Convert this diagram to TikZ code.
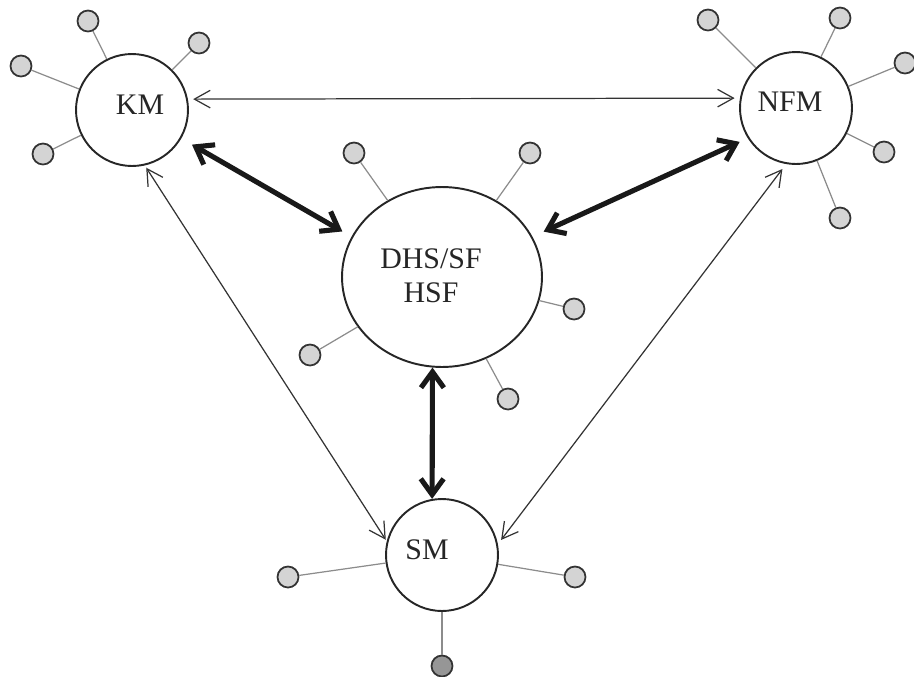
\documentclass[tikz,border=0pt]{standalone}
\usepackage{fontspec}
\setmainfont{Liberation Serif}
\usetikzlibrary{arrows.meta, positioning, shapes.geometric}

\begin{document}
\begin{tikzpicture}[x=0.02cm, y=-0.02cm,
	hub/.style={draw=black!85, line width=1.1pt, circle, minimum size=2.24cm, inner sep=0pt},
	sat/.style={draw=black!80, line width=1pt, fill=satfill, circle, minimum size=0.42cm, inner sep=0pt},
	spoke/.style={draw=black!45, line width=0.7pt},
	lbl/.style={font=\fontsize{17}{19.5}\selectfont, inner sep=0pt, text=black!85},
	thinlink/.style={draw=black!80, line width=0.7pt, {Straight Barb[length=9pt,width=10pt]}-{Straight Barb[length=9pt,width=10pt]}},
	thicklink/.style={draw=black!90, line width=2.9pt, {Straight Barb[length=9pt,width=13pt]}-{Straight Barb[length=9pt,width=13pt]}}]
					% Define colors for the small nodes
					\definecolor{satfill}{RGB}{212,212,212}
					\definecolor{satdark}{RGB}{150,150,150}
					
					\useasboundingbox (0,0) rectangle (914,677);
					
					% Main nodes
					\node[hub] (KM)  at (132,110) {};
					\node[hub] (NFM) at (796,108) {};
					\node[hub, ellipse, minimum width=4cm, minimum height=3.6cm] (DHS) at (442,277) {};
					\node[hub] (SM)  at (442,555) {};
					
					% Labels
					\node[lbl] (KMtext)  at (140,105) {KM};
					\node[lbl] (NFMtext) at (790,102) {NFM};
					\node[lbl, align=center] (DHStext) at (431,276) {DHS/SF\\HSF};
					\node[lbl] (SMtext)  at (427,550) {SM};
					
					% Small nodes around each main node
					\foreach \name/\x/\y/\hubname in {km1/88/21/KM, km2/199/43/KM, km3/21/66/KM, km4/43/154/KM,
						nfm1/708/20/NFM, nfm2/840/18/NFM, nfm3/905/63/NFM, nfm4/884/152/NFM, nfm5/840/218/NFM,
						dhs1/354/153/DHS, dhs2/530/153/DHS, dhs3/574/309/DHS, dhs4/310/355/DHS, dhs5/508/399/DHS,
						sm1/288/577/SM, sm2/575/577/SM}
					{
						\node[sat] (\name) at (\x,\y) {};
						\draw[spoke] (\name) -- (\hubname);
					}
					\node[sat, fill=satdark] (sm3) at (442,666) {};
					\draw[spoke] (sm3) -- (SM);
					
					% Links between main nodes
					\draw[thinlink, shorten <=3pt, shorten >=3pt] (KM.11) -- (NFM.170);
					\draw[thinlink, shorten <=1.5pt, shorten >=1pt] (KM.-77) -- (SM.166);
					\draw[thinlink, shorten <=3.5pt, shorten >=3pt] (NFM.-100) -- (SM.11);
					\draw[thicklink, shorten <=7pt, shorten >=6pt] (KM.-30) -- (DHS.156);
					\draw[thicklink, shorten <=5pt, shorten >=7pt] (NFM.212) -- (DHS.24);
					\draw[thicklink] (DHS.-96) -- (SM.100);
					
				\end{tikzpicture}
\end{document}
